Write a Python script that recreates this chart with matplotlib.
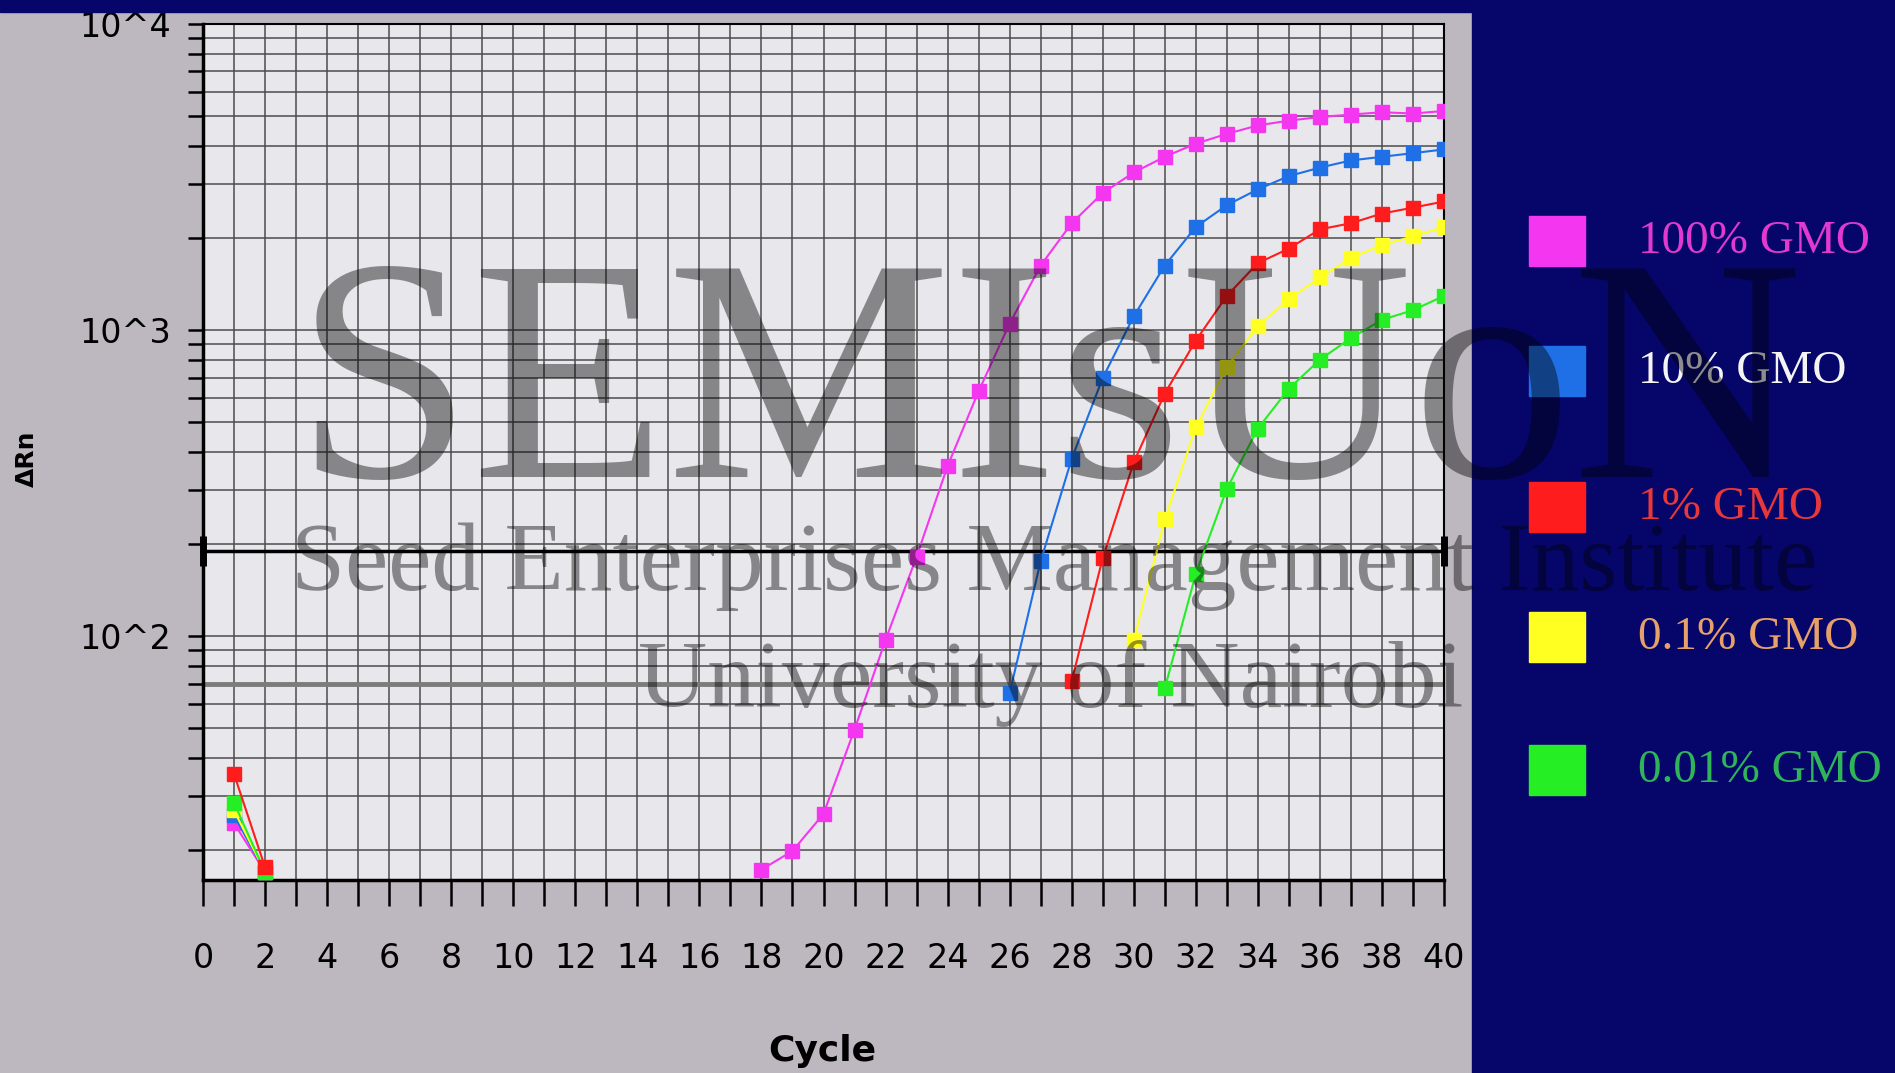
import numpy as np
import matplotlib.pyplot as plt
from matplotlib.patches import Rectangle
from matplotlib.ticker import FixedLocator, FixedFormatter, NullFormatter
from matplotlib import font_manager

# amplification data (delta Rn per cycle)
SERIES = ["100% GMO", "10% GMO", "1% GMO", "0.1% GMO", "0.01% GMO"]
COLORS = ["#f536f0", "#1f6fe6", "#ff1c1c", "#ffff22", "#25ee25"]
LABEL_COLORS = ["#e23ad0", "#f4f4f4", "#e8383a", "#e6a06a", "#2fb45a"]

EARLY_CYCLES = [1, 2]
EARLY_VALUES = [[24.5, 17.0], [26.0, 17.0], [35.5, 17.6], [27.0, 17.0], [28.6, 17.0]]

START_CYCLE = [18, 26, 28, 30, 31]
mag = [17.3, 19.9, 26.3, 49.6, 97.3, 182, 360, 632, 1051, 1626, 2235, 2805, 3274,
       3684, 4068, 4375, 4665, 4834, 4970, 5060, 5150, 5100, 5200]
blue = [65.3, 176, 380, 698, 1110, 1626, 2173, 2560, 2884, 3186, 3396, 3584, 3684,
        3786, 3893]
red = [71.5, 180, 370, 621, 925, 1294, 1656, 1847, 2135, 2235, 2404, 2513, 2632]
yellow = [97, 241, 481, 758, 1033, 1261, 1486, 1718, 1899, 2023, 2173]
green = [67.6, 160, 303, 477, 644, 801, 942, 1081, 1162, 1294]
MAIN_VALUES = [mag, blue, red, yellow, green]

THRESHOLD = 190
BASE_LINE = 70

X_TICKS = list(range(0, 41, 2))
X_TICK_LABELS = [str(t) for t in X_TICKS]
Y_TICKS = [100, 1000, 10000]
Y_TICK_LABELS = ["10^2", "10^3", "10^4"]

names = {f.name for f in font_manager.fontManager.ttflist}
narrow = "Liberation Sans Narrow" if "Liberation Sans Narrow" in names else "DejaVu Sans"

W, H = 1895, 1073
fig = plt.figure(figsize=(W / 100, H / 100), dpi=100, facecolor="#bdb8c0")
navy = "#06066a"
fig.patches.append(Rectangle((1472 / W, 0), 1 - 1472 / W, 1, transform=fig.transFigure,
                             color=navy, zorder=0))
fig.patches.append(Rectangle((0, 1 - 12 / H), 1, 12 / H, transform=fig.transFigure,
                             color=navy, zorder=0))

ax = fig.add_axes([203 / W, 1 - 880 / H, 1241 / W, 856 / H])
ax.set_facecolor("#e8e8ec")
ax.set_yscale("log")
ax.set_xlim(0, 40)
ax.set_ylim(16, 10000)

ax.xaxis.set_major_locator(FixedLocator(X_TICKS))
ax.xaxis.set_major_formatter(FixedFormatter(X_TICK_LABELS))
ax.xaxis.set_minor_locator(FixedLocator(range(1, 40, 2)))
ax.yaxis.set_major_locator(FixedLocator(Y_TICKS))
ax.yaxis.set_major_formatter(FixedFormatter(Y_TICK_LABELS))
minors = [m * 10 ** e for e in (1, 2, 3) for m in range(2, 10) if m * 10 ** e >= 16]
ax.yaxis.set_minor_locator(FixedLocator(minors))
ax.yaxis.set_minor_formatter(NullFormatter())

ax.grid(which="both", color="#4c4c4c", lw=1.1)
ax.set_axisbelow(True)
ax.tick_params(axis="x", which="both", length=19, width=1.8, direction="out",
               pad=26, labelsize=24, colors="black")
ax.tick_params(axis="y", which="both", length=11, width=1.8, direction="out",
               pad=12, labelsize=24)
for lab in ax.get_xticklabels() + ax.get_yticklabels():
    lab.set_family(narrow)
for s in ax.spines.values():
    s.set_linewidth(1.5)
ax.spines["left"].set_linewidth(2.5)
ax.spines["bottom"].set_linewidth(2.5)

ax.axhline(BASE_LINE, color="#7c7c7c", lw=3.5, zorder=2)
ax.plot([0, 40], [THRESHOLD, THRESHOLD], color="black", lw=2.5, marker="|",
        ms=22, mew=5, clip_on=False, zorder=3)

for i in [0, 1, 3, 4, 2]:
    ax.plot(EARLY_CYCLES, EARLY_VALUES[i], color=COLORS[i], lw=1.5, marker="s",
            ms=10, zorder=4)
    cyc = np.arange(START_CYCLE[i], START_CYCLE[i] + len(MAIN_VALUES[i]))
    ax.plot(cyc, MAIN_VALUES[i], color=COLORS[i], lw=1.5, marker="s", ms=10, zorder=4)

fig.text(27 / W, 1 - 459 / H, "ΔRn", rotation=90, ha="center", va="center",
         fontsize=18, fontweight="bold", family=narrow)
fig.text(822 / W, 1 - 1051 / H, "Cycle", ha="center", va="center",
         fontsize=26, fontweight="bold", family=narrow)

# legend on the navy panel
leg_y = [242, 372, 508, 638, 771]
for i, name in enumerate(SERIES):
    yc = 1 - leg_y[i] / H
    fig.patches.append(Rectangle((1529 / W, yc - 24 / H), 56 / W, 50 / H,
                                 transform=fig.transFigure, color=COLORS[i], zorder=2))
    fig.text(1638 / W, yc, name, ha="left", va="center", fontsize=34,
             family="Liberation Serif", color=LABEL_COLORS[i])

# watermark
wm = dict(color="black", alpha=0.42, family="Liberation Serif", zorder=10)
fig.text(1049 / W, 1 - 477 / H, "SEMIsUoN", ha="center", va="baseline", fontsize=230, **wm)
fig.text(1054 / W, 1 - 590 / H, "Seed Enterprises Management Institute", ha="center",
         va="baseline", fontsize=70, **wm)
fig.text(1051 / W, 1 - 707 / H, "University of Nairobi", ha="center",
         va="baseline", fontsize=69, **wm)

fig.savefig("out.png", dpi=100, facecolor=fig.get_facecolor())
